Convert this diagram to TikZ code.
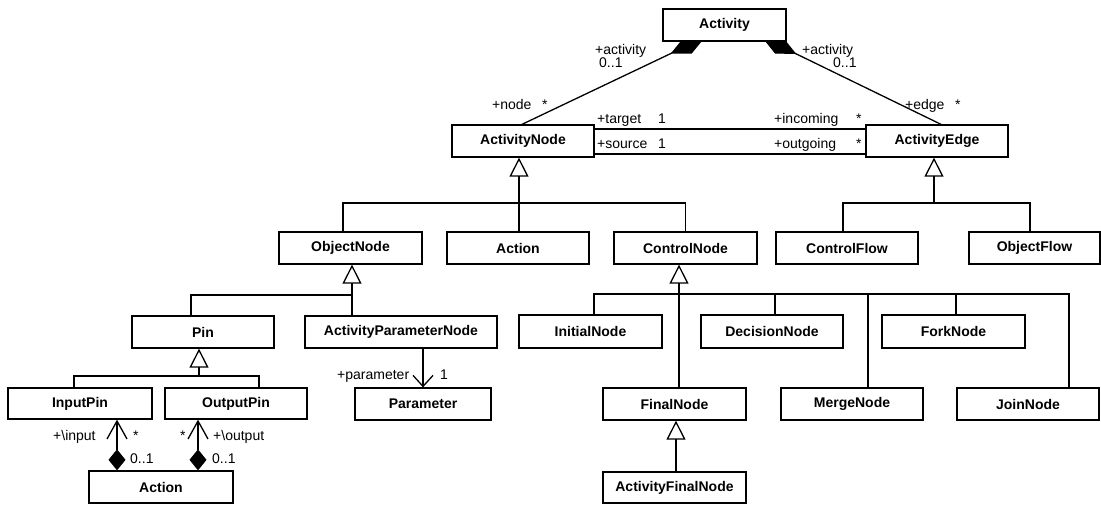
\documentclass[tikz,border=0pt]{standalone}
\usepackage{fontspec}
\setmainfont{Liberation Sans}
\usetikzlibrary{arrows.meta,calc}
\pgfdeclarelayer{background}
\pgfsetlayers{background,main}
\begin{document}
\begin{tikzpicture}[x=1pt,y=-1pt,
  cls/.style={draw,fill=white,line width=1.3pt,minimum width=142pt,minimum height=32pt,
              inner sep=0pt,font=\fontsize{14}{16}\selectfont\bfseries},
  lbl/.style={anchor=base west,inner sep=0pt,font=\fontsize{14}{16}\selectfont},
  link/.style={line width=1.3pt},
  gen/.style={link,-{Triangle[open,length=19pt,width=19pt]}},
  owner/.style={link,{Diamond[length=38pt,width=18pt]}-},
  part/.style={link,{Diamond[length=21pt,width=17pt]}-{Straight Barb[length=18pt,width=20pt]}},
  nav/.style={link,-{Straight Barb[length=11pt,width=20pt]}}]

\useasboundingbox (0,0) rectangle (1101,505);

% classes
\node[cls,minimum width=123pt] (Activity) at (724.5,25) {Activity};
\node[cls] (ActivityNode) at (523,141) {ActivityNode};
\node[cls] (ActivityEdge) at (937,141) {ActivityEdge};
\node[cls,minimum width=143pt] (ObjectNode) at (350.5,248) {ObjectNode};
\node[cls] (ActionB) at (518,248) {Action};
\node[cls,minimum width=143pt] (ControlNode) at (685.5,248) {ControlNode};
\node[cls] (ControlFlow) at (847,248) {ControlFlow};
\node[cls,minimum width=131pt] (ObjectFlow) at (1034.5,248) {ObjectFlow};
\node[cls] (Pin) at (203,332) {Pin};
\node[cls,minimum width=192pt] (APN) at (401,332) {ActivityParameterNode};
\node[cls,minimum width=143pt,minimum height=33pt] (InitialNode) at (590.5,331.5) {InitialNode};
\node[cls,minimum height=33pt] (DecisionNode) at (772,331.5) {DecisionNode};
\node[cls,minimum width=143pt,minimum height=33pt] (ForkNode) at (953.5,331.5) {ForkNode};
\node[cls,minimum width=144pt,minimum height=31pt] (InputPin) at (80,403.5) {InputPin};
\node[cls,minimum height=31pt] (OutputPin) at (236,403.5) {OutputPin};
\node[cls,minimum width=136pt] (Parameter) at (423,404) {Parameter};
\node[cls,minimum width=143pt] (FinalNode) at (674.5,404) {FinalNode};
\node[cls] (MergeNode) at (852,404) {MergeNode};
\node[cls] (JoinNode) at (1028,404) {JoinNode};
\node[cls,minimum width=144pt] (ActionA) at (161,487) {Action};
\node[cls,minimum width=143pt,minimum height=31pt] (ActivityFinalNode) at (674.5,487.5) {ActivityFinalNode};

% levels of the generalization buses
\coordinate (b1) at (0,203);
\coordinate (b2) at (0,295);
\coordinate (b3) at (0,376);
\coordinate (b4) at (0,294);

\begin{pgfonlayer}{background}
  \fill[white] (0,0) rectangle (1101,505);
  % composition from Activity (diamond half hidden under the box)
  \draw[owner] ($(Activity.south)+(-19.5,-4.4)$) -- ([xshift=-1pt]ActivityNode.north);
  \draw[owner] ($(Activity.south)+(37.5,-4.4)$) -- ([xshift=4pt]ActivityEdge.north);
  % target / source associations
  \draw[link] ([yshift=12pt]ActivityNode.east) -- ([yshift=12pt]ActivityNode.east -| ActivityEdge.west);
  \draw[link] ([yshift=-13pt]ActivityNode.east) -- ([yshift=-13pt]ActivityNode.east -| ActivityEdge.west);

  % ActivityNode specializations
  \draw[gen] ([xshift=1pt]ActionB.north) -- ([xshift=1pt]ActionB.north |- ActivityNode.south);
  \draw[link] ([xshift=-7.5pt]ObjectNode.north) |- (ControlNode.north |- b1) -- (ControlNode.north);

  % ActivityEdge specializations
  \draw[gen] ([xshift=-3pt]ActivityEdge.south |- b1) -- ([xshift=-3pt]ActivityEdge.south);
  \draw[link] ([xshift=-4pt]ControlFlow.north) |- ([xshift=-4.5pt]ObjectFlow.north |- b1) -- ([xshift=-4.5pt]ObjectFlow.north);

  % ObjectNode specializations
  \draw[gen] ([xshift=1.5pt]ObjectNode.south |- APN.north) -- ([xshift=1.5pt]ObjectNode.south);
  \draw[link] ([xshift=-12pt]Pin.north) |- ([xshift=1.5pt]ObjectNode.south |- b2);

  % Pin specializations
  \draw[gen] ([xshift=-4pt]Pin.south |- b3) -- ([xshift=-4pt]Pin.south);
  \draw[link] ([xshift=-6pt]InputPin.north) |- ([xshift=23pt]OutputPin.north |- b3) -- ([xshift=23pt]OutputPin.north);

  % ControlNode specializations
  \draw[gen] ([xshift=4.5pt]FinalNode.north) -- ([xshift=4.5pt]FinalNode.north |- ControlNode.south);
  \draw[link] ([xshift=3.5pt]InitialNode.north) |- ([xshift=41pt]JoinNode.north |- b4) -- ([xshift=41pt]JoinNode.north);
  \draw[link] ([xshift=3pt]DecisionNode.north) -- ([xshift=3pt]DecisionNode.north |- b4);
  \draw[link] ([xshift=16pt]MergeNode.north) -- ([xshift=16pt]MergeNode.north |- b4);
  \draw[link] ([xshift=2.5pt]ForkNode.north) -- ([xshift=2.5pt]ForkNode.north |- b4);

  % FinalNode specialization
  \draw[gen] ([xshift=1.5pt]ActivityFinalNode.north) -- ([xshift=1.5pt]ActivityFinalNode.north |- FinalNode.south);

  % parameter association
  \draw[nav] (Parameter.north |- APN.south) -- (Parameter.north);

  % pins owned by Action
  \draw[part] ([xshift=-44pt]ActionA.north) -- ([xshift=-44pt]ActionA.north |- InputPin.south);
  \draw[part] ([xshift=37pt]ActionA.north) -- ([xshift=37pt]ActionA.north |- OutputPin.south);
\end{pgfonlayer}

% role names and multiplicities
\node[lbl] (l1) at (595,55) {+activity};
\node[lbl] (l2) at (599,68) {0..1};
\node[lbl] (l3) at (492,110) {+node};
\node[lbl] (l4) at (542,110) {*};
\node[lbl] (l5) at (802,55) {+activity};
\node[lbl] (l6) at (833,68) {0..1};
\node[lbl] (l7) at (905,110) {+edge};
\node[lbl] (l8) at (955,110) {*};
\node[lbl] (l9) at (597,124) {+target};
\node[lbl] (l10) at (658,124) {1};
\node[lbl] (l11) at (597,149) {+source};
\node[lbl] (l12) at (658,149) {1};
\node[lbl] (l13) at (774,124) {+incoming};
\node[lbl] (l14) at (856,124) {*};
\node[lbl] (l15) at (774,149) {+outgoing};
\node[lbl] (l16) at (856,149) {*};
\node[lbl] (l17) at (337,379) {+parameter};
\node[lbl] (l18) at (440,379) {1};
\node[lbl] (l19) at (53,440) {+\textbackslash input};
\node[lbl] (l20) at (133,440) {*};
\node[lbl] (l21) at (130,463) {0..1};
\node[lbl] (l22) at (180,440) {*};
\node[lbl] (l23) at (213,440) {+\textbackslash output};
\node[lbl] (l24) at (212,463) {0..1};

\end{tikzpicture}
\end{document}
